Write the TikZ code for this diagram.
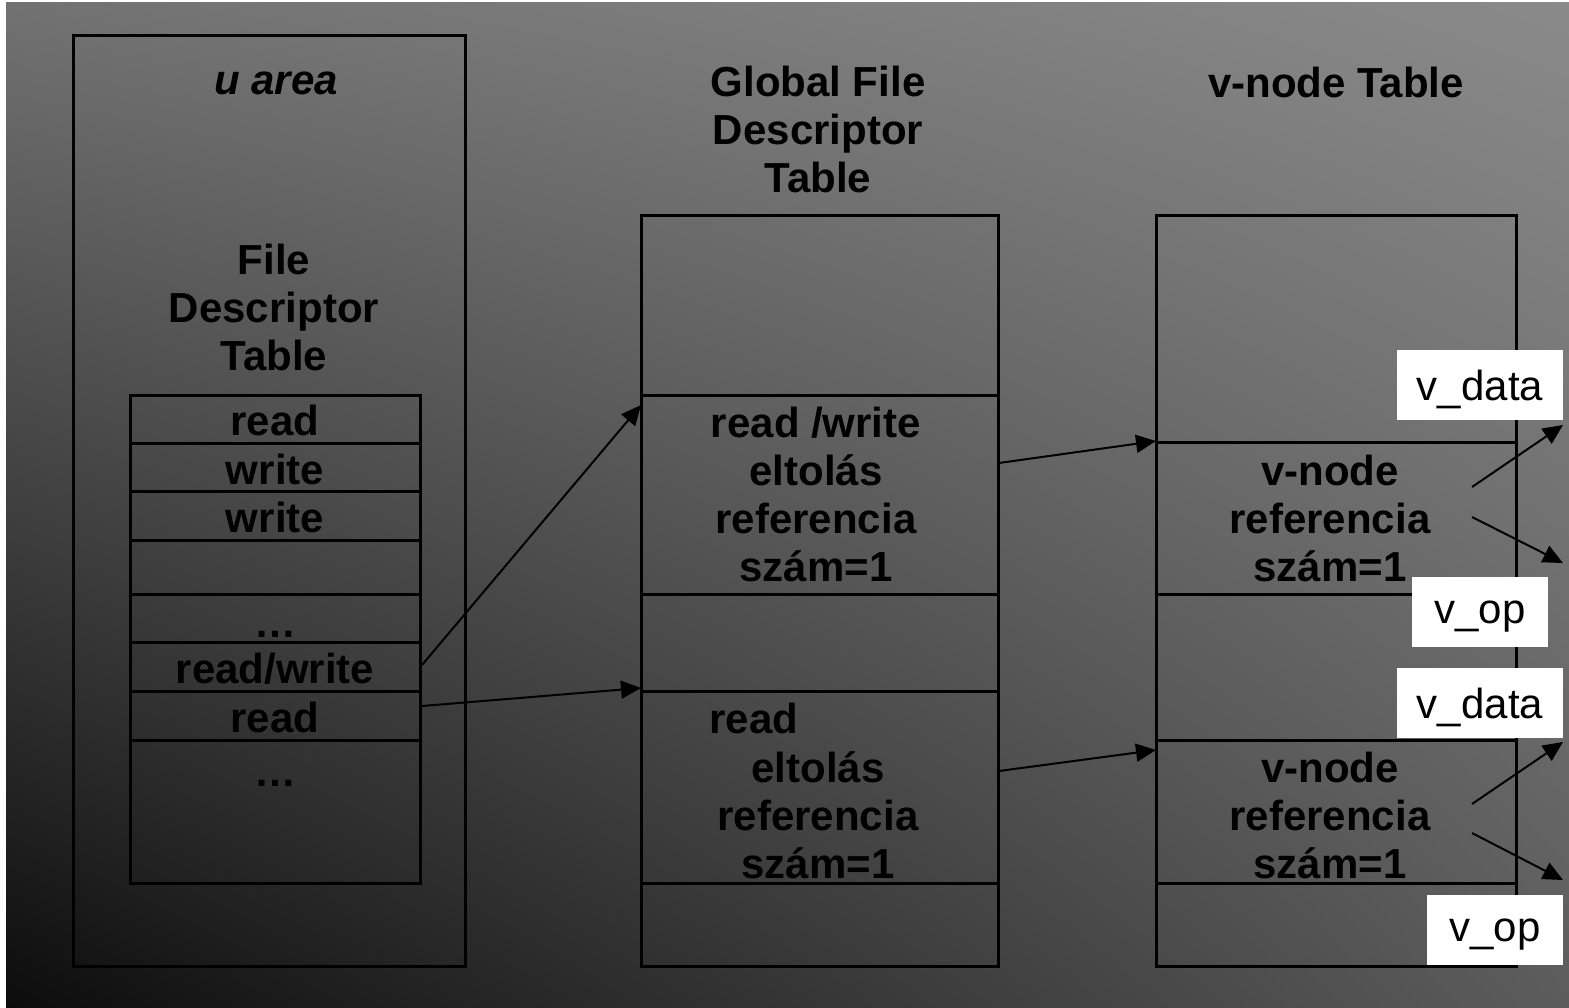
\documentclass[tikz,border=0pt]{standalone}
\usepackage{fontspec}
\setmainfont{Liberation Sans}
\usetikzlibrary{arrows.meta,shadings}
\definecolor{bgTL}{HTML}{727272}
\definecolor{bgTR}{HTML}{8A8A8A}
\definecolor{bgBL}{HTML}{0C0C0C}
\definecolor{bgBR}{HTML}{5C5C5C}
\begin{document}
\begin{tikzpicture}[x=0.5pt,y=-0.5pt,
  cell/.style={draw=black, line width=1.5pt, inner sep=0pt, minimum width=#1},
  txt/.style={font=\fontsize{21}{24}\selectfont\bfseries, align=center, inner sep=0pt, text=black},
  lbl/.style={fill=white, draw=none, inner sep=0pt, text=black, text depth=0pt, font=\fontsize{21}{24}\selectfont, minimum height=35pt},
  arr/.style={-{Triangle[length=10pt,width=9pt]}, line width=1pt, draw=black}]
\useasboundingbox (0,0) rectangle (1569,1007);
\fill[white] (0,0) rectangle (1569,1007);
\shade[upper left=bgTL, upper right=bgTR, lower left=bgBL, lower right=bgBR] (6,2) rectangle (1569,1007);

% u area
\node[cell=196pt, minimum height=465.5pt] (uarea) at (269,500.5) {};
\node[txt, font=\fontsize{21}{24}\selectfont\bfseries\itshape] (ulabel) at (276,83) {u area};
\node[txt] (fdtlabel) at (274,307.5) {File\\Descriptor\\Table};

% file descriptor table
\node[cell=145pt, minimum height=24pt] (f1) at (275,419) {};
\node[cell=145pt, minimum height=24pt] (f2) at (275,467) {};
\node[cell=145pt, minimum height=24.5pt] (f3) at (275,515.5) {};
\node[cell=145pt, minimum height=27pt] (f4) at (275,567) {};
\node[cell=145pt, minimum height=24pt] (f5) at (275,618) {};
\node[cell=145pt, minimum height=24.5pt] (f6) at (275,666.5) {};
\node[cell=145pt, minimum height=24.5pt] (f7) at (275,715.5) {};
\node[cell=145pt, minimum height=71.5pt] (f8) at (275,811.5) {};
\node[txt] (t1) at (275,420) {read};
\node[txt] (t2) at (275,469) {write};
\node[txt] (t3) at (275,517) {write};
\node[txt, anchor=base] (t5) at (275,637) {\dots};
\node[txt] (t6) at (275,669) {read/write};
\node[txt] (t7) at (275,717) {read};
\node[txt, anchor=base] (t8) at (275,786) {\dots};

% global file descriptor table
\node[txt] (glabel) at (818,129) {Global File\\Descriptor\\Table};
\node[cell=178.5pt, minimum height=90pt] (g1) at (819.5,305) {};
\node[cell=178.5pt, minimum height=99.5pt] (g2) at (819.5,494.5) {};
\node[cell=178.5pt, minimum height=48.5pt] (g3) at (819.5,642.5) {};
\node[cell=178.5pt, minimum height=96pt] (g4) at (819.5,787) {};
\node[cell=178.5pt, minimum height=41.5pt] (g5) at (819.5,924.5) {};
\node[txt] (g2t) at (816,494) {read /write\\eltolás\\referencia\\szám=1};
\node[txt, anchor=west] (g4r) at (709,718) {read};
\node[txt] (g4t) at (818,815.5) {eltolás\\referencia\\szám=1};

% v-node table
\node[txt] (vlabel) at (1336,82) {v-node Table};
\node[cell=180pt, minimum height=113.5pt] (v1) at (1336,328.5) {};
\node[cell=180pt, minimum height=76pt] (v2) at (1336,518) {};
\node[cell=180pt, minimum height=73pt] (v3) at (1336,667) {};
\node[cell=180pt, minimum height=71.5pt] (v4) at (1336,811.5) {};
\node[cell=180pt, minimum height=41.5pt] (v5) at (1336,924.5) {};
\node[txt] (v2t) at (1330,518.5) {v-node\\referencia\\szám=1};
\node[txt] (v4t) at (1330,815.5) {v-node\\referencia\\szám=1};

% white labels
\node[lbl, minimum width=83pt] (vd1) at (1480,385) {v\_data};
\node[lbl, minimum width=68pt] (vo1) at (1480,612) {v\_op};
\node[lbl, minimum width=83pt] (vd2) at (1480,703) {v\_data};
\node[lbl, minimum width=68pt] (vo2) at (1495,930) {v\_op};

% connector end points
\coordinate (a1s) at (422,665);
\coordinate (a1e) at (641,405);
\coordinate (a2s) at (422,706);
\coordinate (a2e) at (641,688);
\coordinate (b1s) at (999,463);
\coordinate (b1e) at (1156,441);
\coordinate (b2s) at (999,771);
\coordinate (b2e) at (1156,750);
\coordinate (c1s) at (1472,487);
\coordinate (c1e) at (1563,425);
\coordinate (c2s) at (1472,517);
\coordinate (c2e) at (1563,563);
\coordinate (c3s) at (1472,804);
\coordinate (c3e) at (1563,742);
\coordinate (c4s) at (1472,833);
\coordinate (c4e) at (1563,880);

\draw[arr] (a1s) -- (a1e);
\draw[arr] (a2s) -- (a2e);
\draw[arr] (b1s) -- (b1e);
\draw[arr] (b2s) -- (b2e);
\draw[arr] (c1s) -- (c1e);
\draw[arr] (c2s) -- (c2e);
\draw[arr] (c3s) -- (c3e);
\draw[arr] (c4s) -- (c4e);
\end{tikzpicture}
\end{document}
